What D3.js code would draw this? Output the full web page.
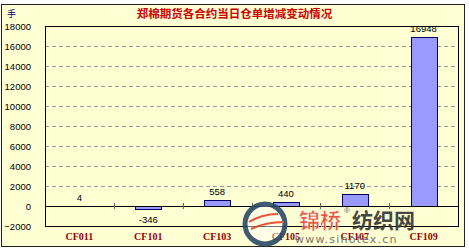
<!DOCTYPE html>
<html><head><meta charset="utf-8">
<script src="https://cdn.jsdelivr.net/npm/d3@7"></script>
<style>html,body{margin:0;padding:0;background:#fff}svg{display:block}</style>
</head><body>
<script>
const categories = ["CF011","CF101","CF103","CF105","CF107","CF109"];
const values = [4,-346,558,440,1170,16948];
const yTicks = [-2000,0,2000,4000,6000,8000,10000,12000,14000,16000,18000];
const title = "郑棉期货各合约当日仓单增减变动情况";
const unit = "手";

const W=469,H=250;
const svg=d3.select("body").append("svg").attr("width",W).attr("height",H);
const bg="#FFFFD4";
svg.append("rect").attr("x",1.5).attr("y",4.5).attr("width",463).attr("height",242)
  .attr("fill",bg).attr("stroke","#222").attr("stroke-width",1);

const L=45,R=458,T=26,B=226;
const x=d3.scaleBand().domain(categories).range([L,R]).paddingInner(0).paddingOuter(0);
const y=d3.scaleLinear().domain([-2000,18000]).range([B,T]);

// grid
svg.append("g").selectAll("line").data(yTicks.filter(v=>v!==0&&v!==18000&&v!==-2000)).join("line")
  .attr("x1",L).attr("x2",R).attr("y1",d=>Math.round(y(d))+0.5).attr("y2",d=>Math.round(y(d))+0.5)
  .attr("stroke","#999").attr("stroke-dasharray","4,3");

// plot frame
svg.append("rect").attr("x",L+0.5).attr("y",T+0.5).attr("width",R-L).attr("height",B-T)
  .attr("fill","none").attr("stroke","#000");

// y axis labels
const yAxis=d3.axisLeft(y).tickValues(yTicks).tickSize(0).tickPadding(0).tickFormat(d3.format("d"));
const ya=svg.append("g").attr("transform",`translate(${31},0)`).call(yAxis);
ya.select(".domain").remove();
ya.selectAll("text").attr("font-family","Liberation Sans, Arial, sans-serif").attr("font-size",9.5)
  .attr("fill","#000").attr("dy","0.35em");

// bars
const bw=26;
svg.append("g").selectAll("rect").data(values).join("rect")
  .attr("x",(d,i)=>Math.round(x(categories[i])+x.bandwidth()/2-bw/2)+0.5)
  .attr("y",d=>Math.round(y(Math.max(0,d)))+0.5)
  .attr("width",bw)
  .attr("height",d=>Math.round(Math.abs(y(d)-y(0))))
  .attr("fill","#9999FF").attr("stroke","#000066").attr("stroke-width",1);

// zero line
svg.append("line").attr("x1",L).attr("x2",R).attr("y1",Math.round(y(0))+0.5).attr("y2",Math.round(y(0))+0.5)
  .attr("stroke","#000");
// category ticks
svg.append("g").selectAll("line").data(categories.slice(1)).join("line")
  .attr("x1",d=>Math.round(x(d))+0.5).attr("x2",d=>Math.round(x(d))+0.5)
  .attr("y1",Math.round(y(0))-3).attr("y2",Math.round(y(0))+3).attr("stroke","#666");

// value labels
svg.append("g").selectAll("text").data(values).join("text")
  .attr("x",(d,i)=>x(categories[i])+x.bandwidth()/2)
  .attr("y",d=>d>=0? y(d)-5 : y(d)+14)
  .attr("text-anchor","middle").attr("font-family","Liberation Sans, Arial, sans-serif")
  .attr("font-size",9.5).attr("fill","#000").text(d=>d);

// x axis labels
const xAxis=d3.axisBottom(x).tickSize(0).tickPadding(0);
const xa=svg.append("g").attr("transform",`translate(0,${233})`).call(xAxis);
xa.select(".domain").remove();
xa.selectAll("text").attr("font-family","Liberation Serif, Times New Roman, serif").attr("font-weight","bold")
  .attr("font-size",10).attr("fill","#990000").attr("dy","0.71em");

// title
svg.append("text").attr("x",234.5).attr("y",18).attr("text-anchor","middle")
  .attr("font-family","Noto Sans CJK SC, sans-serif").attr("font-weight","bold").attr("font-size",11.5)
  .attr("fill","#CC0000").text(title);
svg.append("text").attr("x",7).attr("y",17).attr("font-family","Noto Sans CJK SC, sans-serif")
  .attr("font-size",9).attr("fill","#000080").text(unit);

// watermark
const wm=svg.append("g").attr("opacity",0.9);
wm.append("circle").attr("cx",265).attr("cy",224).attr("r",20).attr("fill","#fff").attr("fill-opacity",0.5)
  .attr("stroke","#2B4A66").attr("stroke-width",5);
wm.append("path").attr("d","M249,222 Q262,214 278,214").attr("fill","none").attr("stroke","#E5432B").attr("stroke-width",2);
wm.append("path").attr("d","M251,229 Q266,222 284,222").attr("fill","none").attr("stroke","#E5432B").attr("stroke-width",2);
wm.append("text").attr("x",299).attr("y",228).attr("font-family","Noto Sans CJK SC, sans-serif").attr("font-weight","bold")
  .attr("font-size",21).attr("fill","#E5432B").attr("stroke","#fff").attr("stroke-width",0.5).text("锦桥");
wm.append("text").attr("x",344).attr("y",213).attr("font-family","Liberation Sans, sans-serif")
  .attr("font-size",8).attr("fill","#555").text("®");
wm.append("text").attr("x",352).attr("y",228).attr("font-family","Noto Sans CJK SC, sans-serif").attr("font-weight","bold")
  .attr("font-size",21).attr("fill","#333").text("纺织网");
wm.append("text").attr("x",295).attr("y",243).attr("font-family","DejaVu Sans, sans-serif")
  .attr("font-size",11).attr("letter-spacing",1.2).attr("fill","#666").text("www.sinotex.cn");
</script>
</body></html>
